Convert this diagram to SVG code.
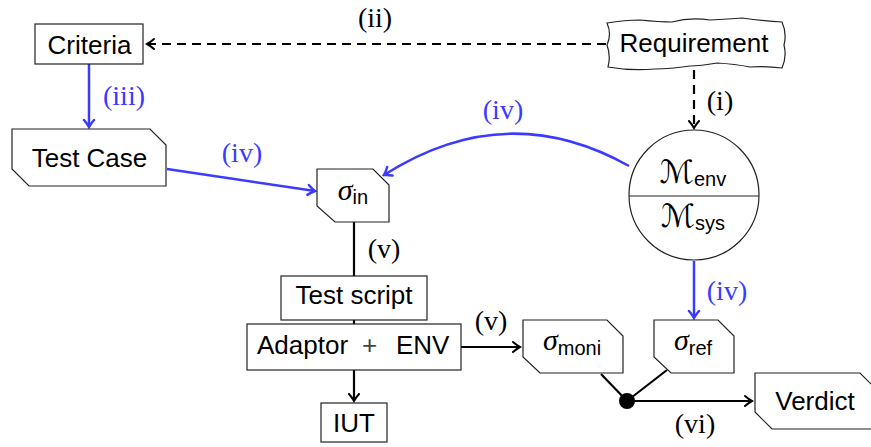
<svg xmlns="http://www.w3.org/2000/svg" width="871" height="447" viewBox="0 0 871 447">
<style>
.node{fill:#fff;stroke:#222;stroke-width:1.2}
.t{font-family:"Liberation Sans",Arial,sans-serif;font-size:26px;fill:#000;text-anchor:middle}
.lbl{font-family:"Liberation Serif","Times New Roman",serif;font-size:28px;fill:#000;text-anchor:middle}
.blbl{font-family:"Liberation Serif","Times New Roman",serif;font-size:28px;fill:#3b3bff;text-anchor:middle}
.m{font-family:"Liberation Serif","Times New Roman",serif;font-style:italic;font-size:30px}
.mc{font-family:"DejaVu Serif","DejaVu Sans",serif;font-size:32px}
.sub{font-family:"Liberation Sans",Arial,sans-serif;font-size:20px}
.k{fill:none;stroke:#000;stroke-width:2.2}
.d{fill:none;stroke:#000;stroke-width:2.2;stroke-dasharray:9 6}
.b{fill:none;stroke:#3b3bff;stroke-width:2.5}
</style>
<defs>
<marker id="ak" viewBox="-9 -7 11 14" markerWidth="11" markerHeight="14" refX="0" refY="0" orient="auto" markerUnits="userSpaceOnUse">
<path d="M-7,-5 Q-3,-1.5 0,0 Q-3,1.5 -7,5" fill="none" stroke="#000" stroke-width="2" stroke-linecap="round"/>
</marker>
<marker id="ab" viewBox="-9 -7 11 14" markerWidth="11" markerHeight="14" refX="0" refY="0" orient="auto" markerUnits="userSpaceOnUse">
<path d="M-7,-5 Q-3,-1.5 0,0 Q-3,1.5 -7,5" fill="none" stroke="#3b3bff" stroke-width="2.5" stroke-linecap="round"/>
</marker>
</defs>

<g id="connectors">
<path class="d" d="M606,44 H147" marker-end="url(#ak)"/>
<path class="d" d="M694,70 V128" marker-end="url(#ak)"/>
<path class="b" d="M89,64 V127" marker-end="url(#ab)"/>
<path class="b" d="M167,169 L315,191" marker-end="url(#ab)"/>
<path class="b" d="M629,166 Q506,97 384,175" marker-end="url(#ab)"/>
<path class="b" d="M694,261 V318" marker-end="url(#ab)"/>
<path class="k" d="M354,222 V276"/>
<path class="k" d="M354,320 V324"/>
<path class="k" d="M354,370 V401" marker-end="url(#ak)"/>
<path class="k" d="M461,347 H520" marker-end="url(#ak)"/>
<path class="k" d="M601,374 L627,401"/>
<path class="k" d="M667,370 L627,401"/>
<path class="k" d="M627,401 H752" marker-end="url(#ak)"/>
<circle cx="627" cy="401" r="8" fill="#000"/>
<text class="lbl" x="375" y="27">(ii)</text>
<text class="lbl" x="720" y="110">(i)</text>
<text class="blbl" x="124" y="105">(iii)</text>
<text class="blbl" x="242" y="162">(iv)</text>
<text class="blbl" x="503" y="119">(iv)</text>
<text class="blbl" x="727" y="300">(iv)</text>
<text class="lbl" x="384" y="258">(v)</text>
<text class="lbl" x="491" y="330">(v)</text>
<text class="lbl" x="695" y="433">(vi)</text>
</g>

<g id="criteria">
<rect class="node" x="35" y="24" width="108" height="40"/>
<text class="t" x="89.5" y="54">Criteria</text>
</g>

<g id="requirement">
<path class="node" d="M607,23 Q625,20 640,20 Q660,22 672,22 Q690,17 710,20 Q730,19 742,18 Q765,21 782,22 Q787,33 784,45 Q787,57 782,68 Q765,66 750,67 Q735,64 717,63 Q700,66 690,66 Q670,69 655,69 Q630,71 608,67 Q611,56 607,45 Q612,34 607,23 Z"/>
<text class="t" x="694" y="52">Requirement</text>
</g>

<g id="testcase">
<path class="node" d="M12,129 H150 L166,145 V186 H29 L12,169 Z"/>
<text class="t" x="89.5" y="167">Test Case</text>
</g>

<g id="models">
<circle class="node" cx="694" cy="195" r="65"/>
<path d="M629,196 H759" stroke="#222" stroke-width="1.2"/>
<text x="693" y="183" text-anchor="middle"><tspan class="mc">ℳ</tspan><tspan class="sub" dy="3">env</tspan></text>
<text x="693" y="227" text-anchor="middle"><tspan class="mc">ℳ</tspan><tspan class="sub" dy="3">sys</tspan></text>
</g>

<g id="sigma-in">
<path class="node" d="M317,169 H373 L389,185 V222 H335 L317,206 Z"/>
<text x="353" y="200" text-anchor="middle"><tspan class="m">σ</tspan><tspan class="sub" dy="4">in</tspan></text>
</g>

<g id="testscript">
<rect class="node" x="281" y="276" width="146" height="44"/>
<text class="t" x="354" y="304">Test script</text>
</g>

<g id="adaptor">
<rect class="node" x="247" y="324" width="214" height="46"/>
<text class="t" y="354" style="text-anchor:start"><tspan x="257">Adaptor</tspan><tspan x="362" fill="#444">+</tspan><tspan x="396">ENV</tspan></text>
</g>

<g id="iut">
<rect class="node" x="321" y="403" width="66" height="39"/>
<text class="t" x="354" y="432">IUT</text>
</g>

<g id="sigma-moni">
<path class="node" d="M523,320 H607 L623,336 V373 H540 L523,357 Z"/>
<text x="572" y="350" text-anchor="middle"><tspan class="m">σ</tspan><tspan class="sub" dy="5">moni</tspan></text>
</g>

<g id="sigma-ref">
<path class="node" d="M654,320 H718 L734,336 V373 H671 L654,357 Z"/>
<text x="693" y="350" text-anchor="middle"><tspan class="m">σ</tspan><tspan class="sub" dy="5">ref</tspan></text>
</g>

<g id="verdict">
<path class="node" d="M755,373 H860 L876,389 V429 H772 L755,412 Z"/>
<text class="t" x="815" y="410">Verdict</text>
</g>
</svg>
